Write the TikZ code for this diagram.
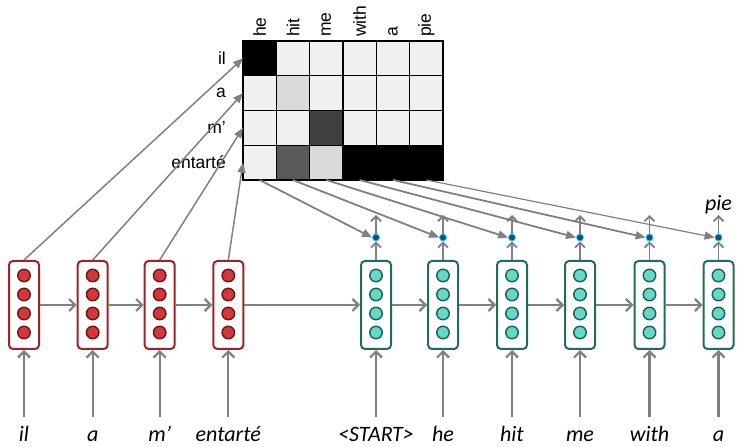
\documentclass[tikz,border=0pt]{standalone}
\usepackage{fontspec}
\setmainfont{Liberation Sans}
\newfontfamily\calfont{Carlito}
\usetikzlibrary{arrows.meta,positioning}

\definecolor{arrowgray}{HTML}{808080}
\definecolor{encline}{HTML}{9E2326}
\definecolor{encfill}{HTML}{D4373B}
\definecolor{encdark}{HTML}{6E1515}
\definecolor{decline}{HTML}{236B5C}
\definecolor{decfill}{HTML}{64DAC6}
\definecolor{decdark}{HTML}{1B5E50}
\definecolor{dotfill}{HTML}{0D4E7E}
\definecolor{dotline}{HTML}{2BC6E6}
\definecolor{cellk}{HTML}{000000}
\definecolor{celll}{HTML}{F0F0F0}
\definecolor{cellg}{HTML}{D9D9D9}
\definecolor{celld}{HTML}{404040}
\definecolor{cellh}{HTML}{5A5A5A}

\begin{document}
\begin{tikzpicture}[x=1pt, y=1pt,
  flow/.style={draw=arrowgray, line width=2.2pt, -{Straight Barb[length=6pt,width=12pt]}},
  attn/.style={draw=arrowgray, line width=1.8pt, -{Triangle[length=10pt,width=8pt]}},
  cell/.style={draw=black, line width=1.2pt, minimum width=33.33pt, minimum height=34.75pt, inner sep=0pt, outer sep=0pt}]
\tikzset{
  hidbox/.style={draw, rounded corners=4pt, fill=white, line width=2pt, minimum width=30pt, minimum height=88pt, inner sep=0pt},
  encbox/.style={hidbox, draw=encline},
  decbox/.style={hidbox, draw=decline},
  unit/.style={circle, line width=1.4pt, minimum size=12.5pt, inner sep=0pt},
  encunit/.style={unit, draw=encdark, fill=encfill},
  decunit/.style={unit, draw=decdark, fill=decfill},
  attdot/.style={circle, draw=dotline, fill=dotfill, line width=0.8pt, minimum size=7pt, inner sep=0pt},
  word/.style={font=\calfont\itshape\fontsize{22}{24}\selectfont, inner sep=1pt},
  mlab/.style={font=\fontsize{17.5}{19}\selectfont, inner sep=1pt}
}
\useasboundingbox (0,0) rectangle (737,447);

% attention matrix
\foreach \r/\row in {1/{k,l,l,l,l,l}, 2/{l,g,l,l,l,l}, 3/{l,l,d,l,l,l}, 4/{l,h,g,k,k,k}}
  \foreach \f [count=\c] in \row
    \node[cell, fill=cell\f] (c-\r-\c) at ({243+33.33*(\c-0.5)},{406-34.75*(\r-0.5)}) {};
\foreach \t [count=\c] in {he,hit,me,with,a,pie}
  \node[mlab, rotate=90, anchor=west] (h\c) at ([yshift=3pt]c-1-\c.north) {\t};
\foreach \t [count=\r] in {il,a,m’,entarté}
  \node[mlab, left=16pt of c-\r-1] (s\r) {\t};

% encoder
\foreach \w/\tok [count=\i] in {24/il, 92.7/a, 159.7/m’, 228.3/entarté} {
  \node[encbox] (e\i) at (\w,142) {};
  \foreach \k in {28.5,9.5,-9.5,-28.5}
    \node[encunit] at (\w,{143+\k}) {};
  \node[word, anchor=base] (x\i) at (\w,5) {\tok};
  \coordinate (xs\i) at (\w,30);
  \draw[flow] (xs\i) -- (e\i.south);
  \draw[attn, line width=1.5pt] (e\i.north) -- (c-\i-1.west);
}

% decoder
\foreach \w/\tok [count=\i] in {376/<START>, 443/he, 512/hit, 580/me, 649.5/with, 718.5/a} {
  \node[decbox] (d\i) at (\w,142) {};
  \foreach \k in {28.5,9.5,-9.5,-28.5}
    \node[decunit] at (\w,{143+\k}) {};
  \node[word, anchor=base] (y\i) at (\w,5) {\tok};
  \coordinate (ys\i) at (\w,30);
  \draw[flow] (ys\i) -- (d\i.south);
  \node[attdot] (a\i) at (\w,209.5) {};
  \coordinate (o\i) at (\w,232);
  \draw[flow, line width=1.8pt, -{Straight Barb[length=5pt,width=10pt]}] (d\i.north) -- (a\i.south);
  \draw[flow, line width=1.8pt, -{Straight Barb[length=5pt,width=10pt]}] (a\i.north) -- (o\i);
}
\foreach \i in {1,...,5}
  \draw[attn] (c-4-\i.south) -- (a\i.west);
\draw[attn, line width=1.2pt] (c-4-6.south) -- (a6.west);
\node[word, anchor=south] (p6) at (o6) {pie};

% recurrent links
\foreach \i [evaluate=\i as \j using int(\i+1)] in {1,2,3}
  \draw[flow] (e\i.east) -- (e\j.west);
\draw[flow] (e4.east) -- (d1.west);
\foreach \i [evaluate=\i as \j using int(\i+1)] in {1,...,5}
  \draw[flow] (d\i.east) -- (d\j.west);
\end{tikzpicture}
\end{document}
